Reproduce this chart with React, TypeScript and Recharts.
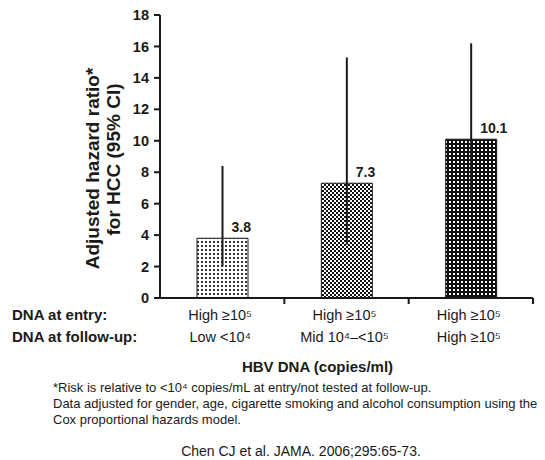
import { BarChart, Bar, XAxis, YAxis, ErrorBar, LabelList, Label, Cell } from 'recharts'

const categories = ['High/Low', 'High/Mid', 'High/High']
const entryLabels = ['High ≥10⁵', 'High ≥10⁵', 'High ≥10⁵']
const followUpLabels = ['Low <10⁴', 'Mid 10⁴–<10⁵', 'High ≥10⁵']
const hazardRatios = [3.8, 7.3, 10.1]
const ciLower = [2.0, 3.4, 6.2]
const ciUpper = [8.4, 15.3, 16.2]
const yTicks = [0, 2, 4, 6, 8, 10, 12, 14, 16, 18]
const patternIds = ['dotsLight', 'checker', 'dotsDark']

const data = categories.map((name, i) => ({
  name,
  hr: hazardRatios[i],
  err: [hazardRatios[i] - ciLower[i], ciUpper[i] - hazardRatios[i]],
}))

const FONT = '"Liberation Sans", Arial, Helvetica, sans-serif'
const INK = '#1a1a1a'

function CategoryTick(props: any) {
  const { x, y, payload, index } = props
  const half = payload?.offset ?? 62
  return (
    <g>
      <line x1={x + half} x2={x + half} y1={y} y2={y + 6} stroke={INK} strokeWidth={2} />
      <text x={x - 2} y={y + 22} textAnchor="middle" fontSize={14.5} fill={INK} fontFamily={FONT}>
        {entryLabels[index]}
      </text>
      <text x={x - 2} y={y + 44} textAnchor="middle" fontSize={14.5} fill={INK} fontFamily={FONT}>
        {followUpLabels[index]}
      </text>
    </g>
  )
}

function ValueLabel(props: any) {
  const { x, y, width, value } = props
  return (
    <text x={x + width / 2 + 9} y={y - 6} fontSize={14} fontWeight="bold" fill={INK} fontFamily={FONT}>
      {value}
    </text>
  )
}

function YTitle(props: any) {
  const vb = props.viewBox
  const cy = vb.y + vb.height / 2
  const c1 = cy + 12
  const c2 = cy + 3
  return (
    <g fontFamily={FONT} fontWeight="bold" fontSize={19} fill={INK}>
      <text x={99} y={c1} textAnchor="middle" transform={`rotate(-90 99 ${c1})`}>
        Adjusted hazard ratio*
      </text>
      <text x={120} y={c2} textAnchor="middle" transform={`rotate(-90 120 ${c2})`}>
        for HCC (95% CI)
      </text>
    </g>
  )
}

function XTitle(props: any) {
  const vb = props.viewBox
  const cx = vb.x + vb.width / 2 - 29
  return (
    <text x={cx} y={vb.y + 74} textAnchor="middle" fontSize={15} fontWeight="bold" fill={INK} fontFamily={FONT}>
      HBV DNA (copies/ml)
    </text>
  )
}

export default function App() {
  return (
    <div style={{ position: 'absolute', left: 0, top: 0, width: 545, height: 460, background: '#fff', fontFamily: FONT, color: INK, overflow: 'hidden' }}>
      <BarChart width={545} height={460} data={data} margin={{ top: 15, right: 12, left: 0, bottom: 102 }}>
        <defs>
          <pattern id="dotsLight" width={4} height={4} patternUnits="userSpaceOnUse">
            <rect width={4} height={4} fill="#fff" />
            <rect x={1} y={1} width={2} height={2} fill="#333" />
          </pattern>
          <pattern id="checker" width={4} height={4} patternUnits="userSpaceOnUse">
            <rect width={4} height={4} fill="#fff" />
            <rect x={0} y={0} width={2} height={2} fill="#111" />
            <rect x={2} y={2} width={2} height={2} fill="#111" />
          </pattern>
          <pattern id="dotsDark" width={4} height={4} patternUnits="userSpaceOnUse">
            <rect width={4} height={4} fill="#111" />
            <rect x={1} y={1} width={2} height={2} fill="#fff" />
          </pattern>
        </defs>
        <XAxis
          dataKey="name"
          height={60}
          interval={0}
          tickLine={false}
          tickSize={0}
          tickMargin={0}
          axisLine={{ stroke: INK, strokeWidth: 2 }}
          tick={<CategoryTick />}
        >
          <Label content={<XTitle />} />
        </XAxis>
        <YAxis
          width={160}
          domain={[0, 18]}
          ticks={yTicks}
          interval={0}
          tickSize={6}
          tickMargin={5}
          axisLine={{ stroke: INK, strokeWidth: 2 }}
          tickLine={{ stroke: INK, strokeWidth: 2 }}
          tick={{ fontSize: 14.5, fontWeight: 'bold', fill: INK, fontFamily: FONT }}
        >
          <Label content={<YTitle />} />
        </YAxis>
        <Bar dataKey="hr" barSize={51} stroke={INK} strokeWidth={1} isAnimationActive={false}>
          {data.map((d, i) => (
            <Cell key={d.name} fill={`url(#${patternIds[i]})`} />
          ))}
          <ErrorBar dataKey="err" width={0} stroke={INK} strokeWidth={2} isAnimationActive={false} />
          <LabelList dataKey="hr" content={<ValueLabel />} />
        </Bar>
      </BarChart>
      <div style={{ position: 'absolute', left: 12, top: 306, fontSize: 15, fontWeight: 'bold' }}>DNA at entry:</div>
      <div style={{ position: 'absolute', left: 12, top: 328, fontSize: 15, fontWeight: 'bold' }}>DNA at follow-up:</div>
      <div style={{ position: 'absolute', left: 53, top: 380, fontSize: 13, lineHeight: '16px' }}>
        <div>*Risk is relative to &lt;10⁴ copies/mL at entry/not tested at follow-up.</div>
        <div>Data adjusted for gender, age, cigarette smoking and alcohol consumption using the</div>
        <div>Cox proportional hazards model.</div>
      </div>
      <div style={{ position: 'absolute', left: 0, width: 602, top: 443, fontSize: 14, lineHeight: '16px', textAlign: 'center' }}>
        Chen CJ et al. JAMA. 2006;295:65-73.
      </div>
    </div>
  )
}
